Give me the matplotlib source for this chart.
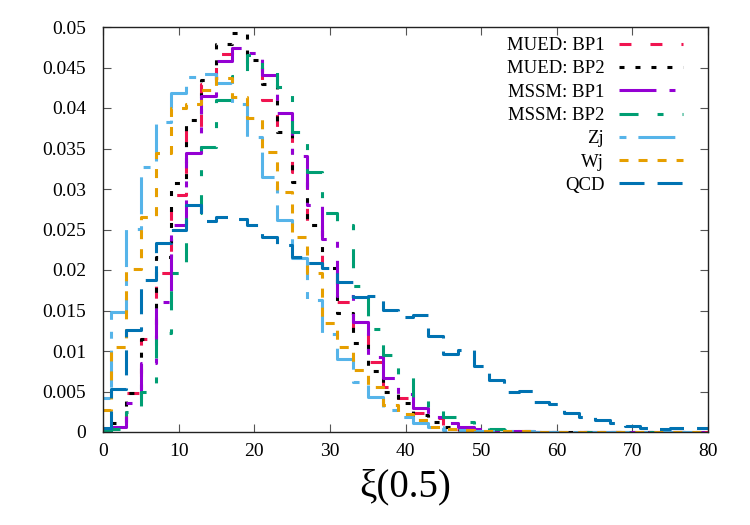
import matplotlib
matplotlib.use('Agg')
import matplotlib.pyplot as plt
import numpy as np

plt.rcParams['font.family'] = ['Liberation Serif', 'DejaVu Serif']
plt.rcParams['lines.scale_dashes'] = False

# bin centres (histeps, width 2)
xi = np.arange(0, 82, 2)

mued_bp1 = [0.0001, 0.0008, 0.0048, 0.0115, 0.0196, 0.0293, 0.0375, 0.0430, 0.0467, 0.0472,
            0.0455, 0.0410, 0.0373, 0.0321, 0.0256, 0.0205, 0.0160, 0.0122, 0.0086, 0.0056,
            0.0042, 0.0024, 0.0017, 0.0008, 0.0004, 0.0002, 0.0001, 0.0001, 0.0, 0.0,
            0.0, 0.0, 0.0, 0.0, 0.0, 0.0, 0.0, 0.0, 0.0, 0.0, 0.0]
mued_bp2 = [0.0001, 0.0011, 0.0048, 0.0115, 0.0216, 0.0308, 0.0385, 0.0434, 0.0479, 0.0493,
            0.0459, 0.0430, 0.0370, 0.0309, 0.0256, 0.0202, 0.0147, 0.0110, 0.0075, 0.0049,
            0.0036, 0.0021, 0.0012, 0.0006, 0.0003, 0.0001, 0.0001, 0.0, 0.0, 0.0,
            0.0, 0.0, 0.0, 0.0, 0.0, 0.0, 0.0, 0.0, 0.0, 0.0, 0.0]
mssm_bp1 = [0.0002, 0.0006, 0.0036, 0.0085, 0.0161, 0.0256, 0.0344, 0.0415, 0.0458, 0.0474,
            0.0468, 0.0441, 0.0394, 0.0341, 0.0280, 0.0238, 0.0168, 0.0136, 0.0092, 0.0067,
            0.0047, 0.0030, 0.0019, 0.0011, 0.0006, 0.0004, 0.0002, 0.0001, 0.0001, 0.0,
            0.0, 0.0, 0.0, 0.0, 0.0, 0.0, 0.0, 0.0, 0.0, 0.0, 0.0]
mssm_bp2 = [0.0001, 0.0004, 0.0025, 0.0050, 0.0122, 0.0196, 0.0270, 0.0352, 0.0410, 0.0440,
            0.0465, 0.0445, 0.0426, 0.0370, 0.0321, 0.0270, 0.0256, 0.0180, 0.0127, 0.0095,
            0.0068, 0.0042, 0.0030, 0.0019, 0.0012, 0.0008, 0.0004, 0.0002, 0.0001, 0.0,
            0.0, 0.0, 0.0, 0.0, 0.0, 0.0, 0.0, 0.0, 0.0, 0.0, 0.0]
zj = [0.0042, 0.0148, 0.0251, 0.0327, 0.0383, 0.0418, 0.0438, 0.0442, 0.0431, 0.0405,
      0.0364, 0.0315, 0.0262, 0.0215, 0.0163, 0.0121, 0.0090, 0.0062, 0.0043, 0.0027,
      0.0019, 0.0011, 0.0006, 0.0003, 0.0002, 0.0001, 0.0001, 0.0001, 0.0001, 0.0,
      0.0, 0.0, 0.0, 0.0, 0.0, 0.0, 0.0, 0.0, 0.0, 0.0, 0.0]
wj = [0.0027, 0.0105, 0.0201, 0.0265, 0.0345, 0.0400, 0.0405, 0.0422, 0.0437, 0.0414,
      0.0388, 0.0346, 0.0296, 0.0241, 0.0196, 0.0135, 0.0105, 0.0077, 0.0056, 0.0033,
      0.0022, 0.0015, 0.0006, 0.0004, 0.0002, 0.0001, 0.0001, 0.0001, 0.0001, 0.0,
      0.0, 0.0, 0.0, 0.0, 0.0, 0.0, 0.0, 0.0, 0.0, 0.0, 0.0]
qcd = [0.0005, 0.0053, 0.0126, 0.0188, 0.0233, 0.0249, 0.0280, 0.0260, 0.0265, 0.0263,
       0.0256, 0.0241, 0.0231, 0.0216, 0.0209, 0.0202, 0.0185, 0.0167, 0.0168, 0.0151,
       0.0142, 0.0144, 0.0118, 0.0096, 0.0101, 0.0081, 0.0064, 0.0049, 0.0051, 0.0037,
       0.0034, 0.0024, 0.0018, 0.0015, 0.0011, 0.0008, 0.0005, 0.0004, 0.0005, 0.0005, 0.0005]

labels = ['MUED: BP1', 'MUED: BP2', 'MSSM: BP1', 'MSSM: BP2', 'Zj', 'Wj', 'QCD']
colors = ['#f01450', '#000000', '#9400d3', '#009e73', '#56b4e9', '#e69f00', '#0072b2']
# dash patterns in points (px * 0.72)
styles = [(0, (8.6, 13.7)),
          (0, (3.6, 7.9)),
          (0, (26.6, 9.4, 4.3, 9.4)),
          (0, (13.7, 13.7, 4.3, 13.7)),
          (0, (5.0, 8.6, 26.6, 8.6)),
          (0, (6.5, 7.2)),
          (0, (18.0, 9.4))]

xticks = [0, 10, 20, 30, 40, 50, 60, 70, 80]
yticks = [0, 0.005, 0.01, 0.015, 0.02, 0.025, 0.03, 0.035, 0.04, 0.045, 0.05]
ytick_labels = ['0', '0.005', '0.01', '0.015', '0.02', '0.025', '0.03', '0.035', '0.04', '0.045', '0.05']

fig = plt.figure(figsize=(7.5, 5.25), dpi=100)
ax = fig.add_axes([103 / 750, 1 - 432 / 525, 605 / 750, 405 / 525])

series = [mued_bp1, mued_bp2, mssm_bp1, mssm_bp2, zj, wj, qcd]
for vals, lab, col, ls in zip(series, labels, colors, styles):
    ax.step(xi, vals, where='mid', color=col, linestyle=ls, linewidth=2.2, label=lab)

ax.set_xlim(0, 80)
ax.set_ylim(0, 0.05)
ax.set_xticks(xticks)
ax.set_yticks(yticks)
ax.set_yticklabels(ytick_labels)
ax.tick_params(direction='in', length=6, width=0.8, color='#555555',
               top=True, right=True, labelsize=14)
ax.tick_params(axis='x', pad=8)
ax.tick_params(axis='y', pad=12)
for sp in ax.spines.values():
    sp.set_color('#222222')
    sp.set_linewidth(1.0)

ax.set_xlabel('ξ(0.5)', fontsize=28, labelpad=6)

leg = ax.legend(loc='upper right', bbox_to_anchor=((683 - 103) / 605, (432 - 37) / 405),
                frameon=False, markerfirst=False, fontsize=13.5, handlelength=3.4,
                handletextpad=0.8, labelspacing=0.33, borderpad=0, borderaxespad=0)

fig.savefig('out.png', dpi=100)
